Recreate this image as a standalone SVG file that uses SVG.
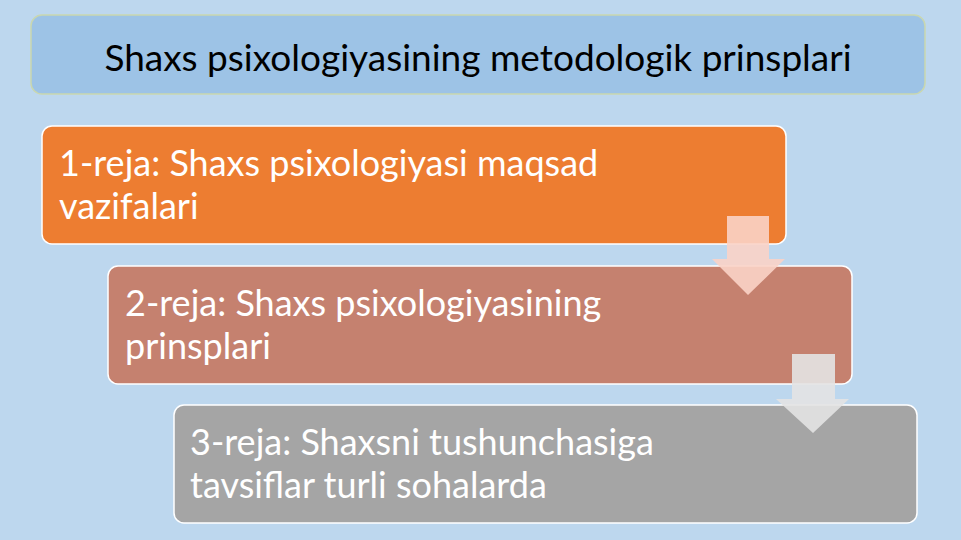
<svg xmlns="http://www.w3.org/2000/svg" width="961" height="540" viewBox="0 0 961 540">
<style>
.box{stroke:#ffffff;stroke-width:1.5}
.t{font-family:Lato,"Open Sans",sans-serif;font-size:36px;fill:#ffffff}
</style>
<rect x="0" y="0" width="961" height="540" fill="#bdd7ee"/>
<g id="title">
<rect x="31" y="15" width="894" height="79" rx="11" fill="#9dc3e6" stroke="#c9d7b0" stroke-width="1.5"/>
<text x="478" y="71" text-anchor="middle" font-family="Lato,'Open Sans',sans-serif" font-size="37" fill="#000000">Shaxs psixologiyasining metodologik prinsplari</text>
</g>
<g id="step1">
<rect class="box" x="42" y="126" width="744" height="118" rx="10" fill="#ed7d31"/>
<text class="t" x="59" y="176">1-reja: Shaxs psixologiyasi maqsad</text>
<text class="t" x="59" y="219">vazifalari</text>
</g>
<g id="step2">
<rect class="box" x="108" y="266" width="744" height="118" rx="10" fill="#c5816f"/>
<text class="t" x="125" y="316">2-reja: Shaxs psixologiyasining</text>
<text class="t" x="125" y="359">prinsplari</text>
</g>
<g id="step3">
<rect class="box" x="174" y="405" width="743" height="118" rx="10" fill="#a5a5a5"/>
<text class="t" x="190" y="455">3-reja: Shaxsni tushunchasiga</text>
<text class="t" x="190" y="498">tavsiflar turli sohalarda</text>
</g>
<g id="connectors">
<polygon points="727,216 769,216 769,259 785,259 748,295 712,259 727,259" fill="#f9d3c6" fill-opacity="0.9"/>
<polygon points="792,354 835,354 835,399 849,399 813,433 776,399 792,399" fill="#e3e3e3" fill-opacity="0.9"/>
</g>
</svg>
